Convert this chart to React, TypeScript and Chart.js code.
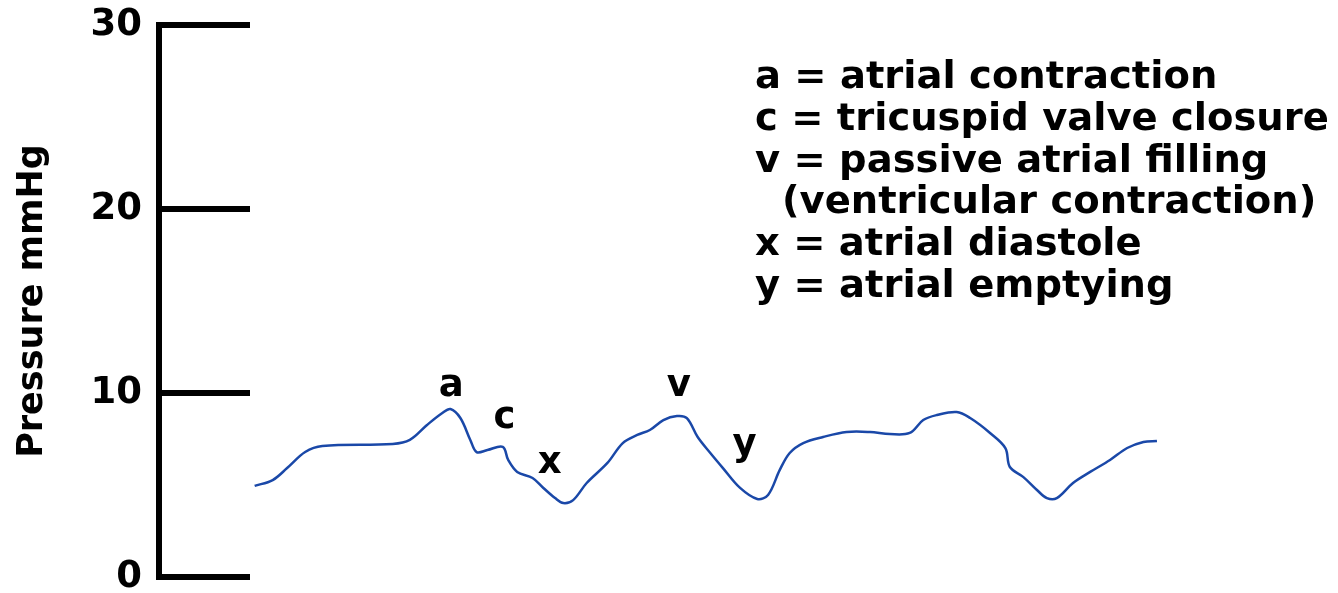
import React, { useEffect, useRef } from "react";
import { Chart, registerables } from "chart.js";

Chart.register(...registerables);

// Time (arbitrary units) and right-atrial pressure (mmHg)
const time = [
  0.6, 2.6, 4.2, 6.2, 8.1, 15.9, 17.8, 19.7, 21.4, 22.3, 23.4, 24.5, 25.2, 26.4, 28.1, 28.7,
  29.7, 31.4, 32.6, 33.9, 34.8, 35.9, 37.4, 39.7, 41.4, 43.0, 44.4, 45.9, 47.4, 48.5, 49.7,
  51.1, 52.5, 54.4, 56.3, 57.5, 58.8, 59.9, 61.4, 63.6, 66.2, 68.8, 71.0, 73.2, 74.7, 76.2,
  78.4, 79.9, 82.1, 83.8, 84.3, 85.8, 87.3, 88.4, 89.5, 91.3, 93.2, 95.4, 97.3, 99.1, 100.6,
];
const pressure = [
  4.95, 5.27, 5.92, 6.79, 7.12, 7.23, 7.45, 8.26, 8.91, 9.13, 8.64, 7.45, 6.79, 6.9, 7.07, 6.36,
  5.71, 5.38, 4.84, 4.29, 4.02, 4.18, 5.11, 6.2, 7.28, 7.72, 7.99, 8.53, 8.75, 8.64, 7.61,
  6.74, 5.92, 4.84, 4.24, 4.46, 5.82, 6.74, 7.28, 7.61, 7.88, 7.88, 7.77, 7.83, 8.53, 8.8,
  8.97, 8.64, 7.83, 7.01, 5.98, 5.43, 4.73, 4.29, 4.29, 5.11, 5.71, 6.36, 7.01, 7.34, 7.39,
];

const yTicks = [0, 10, 20, 30];

// Wave labels anchored in data coordinates
const waveLabels = ["a", "c", "x", "v", "y"];
const waveLabelTime = [22.4, 28.3, 33.3, 47.6, 54.9];
const waveLabelPressure = [9.84, 8.1, 5.65, 9.84, 6.63];

const legendLines = [
  "a = atrial contraction",
  "c = tricuspid valve closure",
  "v = passive atrial filling",
  "(ventricular contraction)",
  "x = atrial diastole",
  "y = atrial emptying",
];
const legendIndent = [0, 0, 0, 1, 0, 0];

const FONT = "'DejaVu Sans', Verdana, sans-serif";

const overlayPlugin = {
  id: "overlay",
  afterDatasetsDraw(chart: any) {
    const { ctx, chartArea } = chart;
    const xs = chart.scales.x;
    const ys = chart.scales.y;
    ctx.save();
    // tick marks extending into the plot
    ctx.strokeStyle = "#000";
    ctx.lineWidth = 6;
    ctx.lineCap = "butt";
    for (const v of yTicks) {
      const py = ys.getPixelForValue(v);
      ctx.beginPath();
      ctx.moveTo(chartArea.left - 3, py);
      ctx.lineTo(chartArea.left + 91, py);
      ctx.stroke();
    }
    // wave labels
    ctx.fillStyle = "#000";
    ctx.font = `bold 37px ${FONT}`;
    ctx.textAlign = "center";
    ctx.textBaseline = "alphabetic";
    waveLabels.forEach((lab, i) => {
      ctx.fillText(lab, xs.getPixelForValue(waveLabelTime[i]), ys.getPixelForValue(waveLabelPressure[i]));
    });
    // legend text block
    ctx.textAlign = "left";
    legendLines.forEach((line, i) => {
      ctx.save();
      ctx.translate(755 + legendIndent[i] * 27, 88 + i * 41.8);
      ctx.scale(1.04, 1);
      ctx.fillText(line, 0, 0);
      ctx.restore();
    });
    ctx.restore();
  },
};

export default function App() {
  const ref = useRef<HTMLCanvasElement | null>(null);
  useEffect(() => {
    if (!ref.current) return;
    const chart = new Chart(ref.current, {
      type: "line",
      data: {
        datasets: [
          {
            label: "Pressure",
            data: time.map((t, i) => ({ x: t, y: pressure[i] })),
            borderColor: "#1a48a8",
            borderWidth: 2.5,
            pointRadius: 0,
            tension: 0.35,
            fill: false,
          },
        ],
      },
      options: {
        responsive: false,
        animation: false,
        events: [],
        layout: { padding: { top: 25, bottom: 16, left: 0, right: 6 } },
        plugins: { legend: { display: false }, tooltip: { enabled: false } },
        scales: {
          x: { type: "linear", min: -10, max: 120, display: false },
          y: {
            type: "linear",
            min: 0,
            max: 30,
            ticks: {
              stepSize: 10,
              color: "#000",
              padding: 9,
              font: { family: FONT, size: 37, weight: "bold" },
            },
            grid: { display: false },
            border: { display: true, color: "#000", width: 6 },
            title: {
              display: true,
              text: "Pressure mmHg",
              color: "#000",
              padding: { top: 12, bottom: 0 },
              font: { family: FONT, size: 35, weight: "bold" },
            },
            afterFit: (s: any) => {
              s.width = 159;
              s.paddingTop = 0;
              s.paddingBottom = 0;
            },
          },
        },
      },
      plugins: [overlayPlugin],
    } as any);
    return () => chart.destroy();
  }, []);
  return (
    <div style={{ position: "absolute", left: 0, top: 0, width: 1338, height: 593, background: "#fff" }}>
      <canvas ref={ref} width={1338} height={593} style={{ display: "block" }} />
    </div>
  );
}
